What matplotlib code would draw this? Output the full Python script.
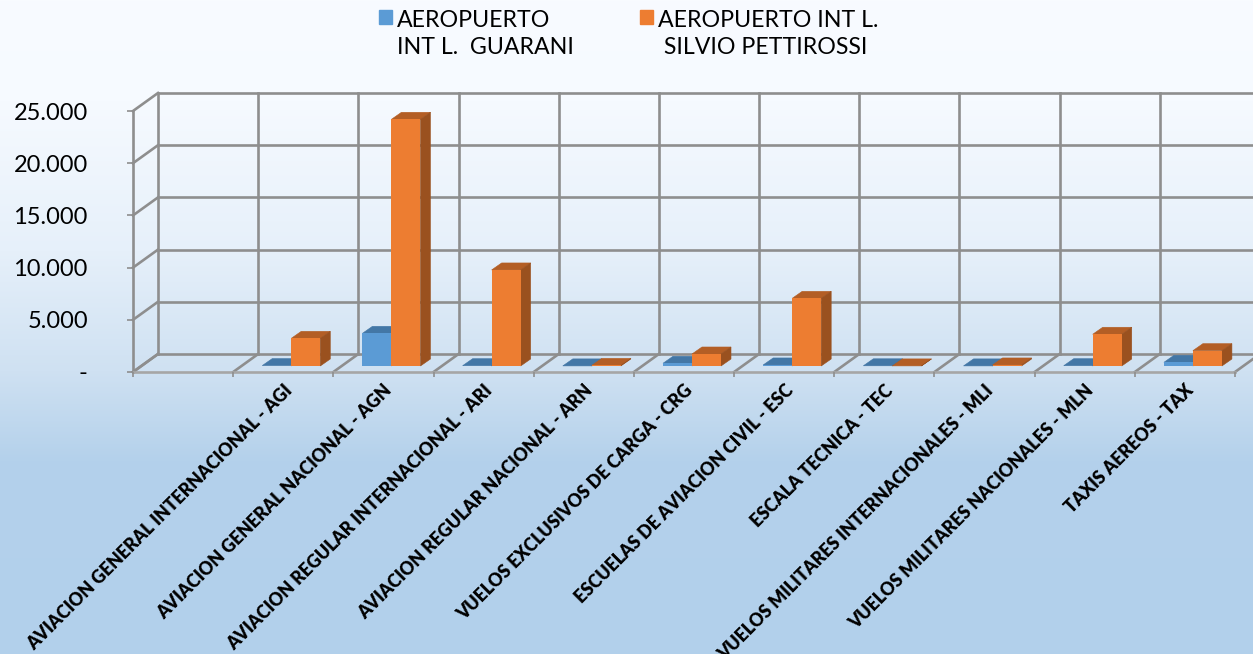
import numpy as np
import matplotlib
matplotlib.use("Agg")
import matplotlib.pyplot as plt
from matplotlib.legend_handler import HandlerPatch
from matplotlib.patches import Patch, Rectangle
from matplotlib.transforms import offset_copy

plt.rcParams['font.family'] = ['Lato', 'DejaVu Sans']

# Data (first slot is empty in the original)
categories = ["",
              "AVIACION GENERAL INTERNACIONAL - AGI",
              "AVIACION GENERAL NACIONAL - AGN",
              "AVIACION REGULAR INTERNACIONAL - ARI",
              "AVIACION REGULAR NACIONAL - ARN",
              "VUELOS EXCLUSIVOS DE CARGA - CRG",
              "ESCUELAS DE AVIACION CIVIL - ESC",
              "ESCALA TECNICA - TEC",
              "VUELOS MILITARES INTERNACIONALES - MLI",
              "VUELOS MILITARES NACIONALES - MLN",
              "TAXIS AEREOS - TAX"]
guarani = [0, 40, 3130, 30, 10, 260, 100, 20, 10, 30, 350]
pettirossi = [0, 2650, 23630, 9200, 60, 1150, 6480, 10, 100, 3040, 1470]
y_ticks = [0, 5000, 10000, 15000, 20000, 25000]
y_labels = ["-", "5.000", "10.000", "15.000", "20.000", "25.000"]

W, H = 1253, 654
fig = plt.figure(figsize=(W / 100, H / 100), dpi=100)

# background gradient
bg = fig.add_axes([0, 0, 1, 1], zorder=-1)
rows = np.arange(H)
stops = [0, 100, 250, 370, 460, 654]
cols = np.array([[248, 251, 255], [246, 250, 255], [230, 240, 250],
                 [207, 225, 242], [180, 209, 235], [178, 208, 235]]) / 255
grad = np.stack([np.interp(rows, stops, cols[:, i]) for i in range(3)], axis=1)
bg.imshow(grad[:, None, :], aspect='auto')
bg.axis('off')

# front plane of the 3d box
left, right, bottom, top = 133, 1235, 372, 111
ax = fig.add_axes([left / W, 1 - bottom / H, (right - left) / W, (bottom - top) / H])
ax.patch.set_visible(False)
ax.set_xlim(-0.5, len(categories) - 0.5)
ax.set_ylim(0, 25000)
for s in ax.spines.values():
    s.set_visible(False)

grid_col = '#8e8e8e'
grid_lw = 1.9
px_x = len(categories) / (right - left)
px_y = 25000 / (bottom - top)
back_dx, back_dy = 25 * px_x, 18 * px_y
edges = np.arange(len(categories) + 1) - 0.5

# back wall, side wall and floor
for v in y_ticks:
    ax.plot([edges[0], edges[0] + back_dx], [v, v + back_dy], color=grid_col, lw=grid_lw,
            clip_on=False, zorder=1)
    ax.plot([edges[0] + back_dx, edges[-1] + back_dx], [v + back_dy, v + back_dy],
            color=grid_col, lw=grid_lw, clip_on=False, zorder=1)
for e in edges:
    ax.plot([e + back_dx, e + back_dx], [back_dy, 25000 + back_dy], color=grid_col, lw=grid_lw,
            clip_on=False, zorder=1)
    ax.plot([e, e + back_dx], [0, back_dy], color=grid_col, lw=grid_lw, clip_on=False, zorder=1)
ax.plot([edges[0], edges[0]], [0, 25000], color=grid_col, lw=grid_lw, clip_on=False, zorder=1)
ax.plot([edges[0], edges[-1]], [0, 0], color='#a6a6a6', lw=grid_lw, clip_on=False, zorder=1)

# bars sit a bit behind the front edge of the floor
floor = offset_copy(ax.transData, fig=fig, x=8, y=6, units='dots')
bar_w = 29 * px_x
dep_x, dep_y = 10 * px_x, 7 * px_y
x = np.arange(len(categories))


def draw_series(xpos, vals, front, top_col, side_col):
    for xi, v, name in zip(xpos, vals, categories):
        if name == "":
            continue
        ax.fill([xi - bar_w, xi, xi + dep_x, xi - bar_w + dep_x],
                [v, v, v + dep_y, v + dep_y], color=top_col, lw=0.4,
                transform=floor, clip_on=False, zorder=3)
        ax.fill([xi, xi + dep_x, xi + dep_x, xi],
                [0, dep_y, v + dep_y, v], color=side_col, lw=0.4,
                transform=floor, clip_on=False, zorder=3)
    ax.bar(xpos - bar_w / 2, vals, bar_w, color=front, transform=floor,
           clip_on=False, zorder=3)


draw_series(x, guarani, '#5B9BD5', '#4377A6', '#3F6F9C')
draw_series(x + bar_w, pettirossi, '#ED7D31', '#B35E25', '#9A511F')

# axes ticks and labels
ax.set_yticks(y_ticks)
ax.set_yticklabels(y_labels, fontsize=17, color='black')
ax.tick_params(axis='y', length=4.5, width=1.2, color=grid_col, pad=28)
ax.set_xticks(edges)
ax.set_xticklabels([])
ax.tick_params(axis='x', which='major', length=3.5, width=1.2, color=grid_col)
ax.set_xticks(x, minor=True)
ax.set_xticklabels(categories, minor=True, rotation=45, ha='right', va='top',
                   rotation_mode='anchor', fontsize=12.7, fontweight='heavy', color='black')
ax.tick_params(axis='x', which='minor', length=0, pad=7)


def top_aligned_key(legend, orig_handle, xdescent, ydescent, width, height, fontsize):
    # key sits next to the first line of the two line label
    return Rectangle((-xdescent, -ydescent + 13), 9.4, 9.4)


handles = [Patch(color='#5B9BD5', label="AEROPUERTO\nINT L.  GUARANI"),
           Patch(color='#ED7D31', label="AEROPUERTO INT L.\n SILVIO PETTIROSSI")]
leg = fig.legend(handles=handles, loc='upper left', bbox_to_anchor=(379 / W, 1 - 10 / H),
                 ncol=2, frameon=False, fontsize=16.7, handlelength=0.56, handleheight=0.56,
                 handletextpad=0.22, columnspacing=2.85, labelspacing=0, borderpad=0,
                 borderaxespad=0, handler_map={Patch: HandlerPatch(patch_func=top_aligned_key)})
for t in leg.get_texts():
    t.set_linespacing(1.38)

fig.savefig("out.png", dpi=100)
